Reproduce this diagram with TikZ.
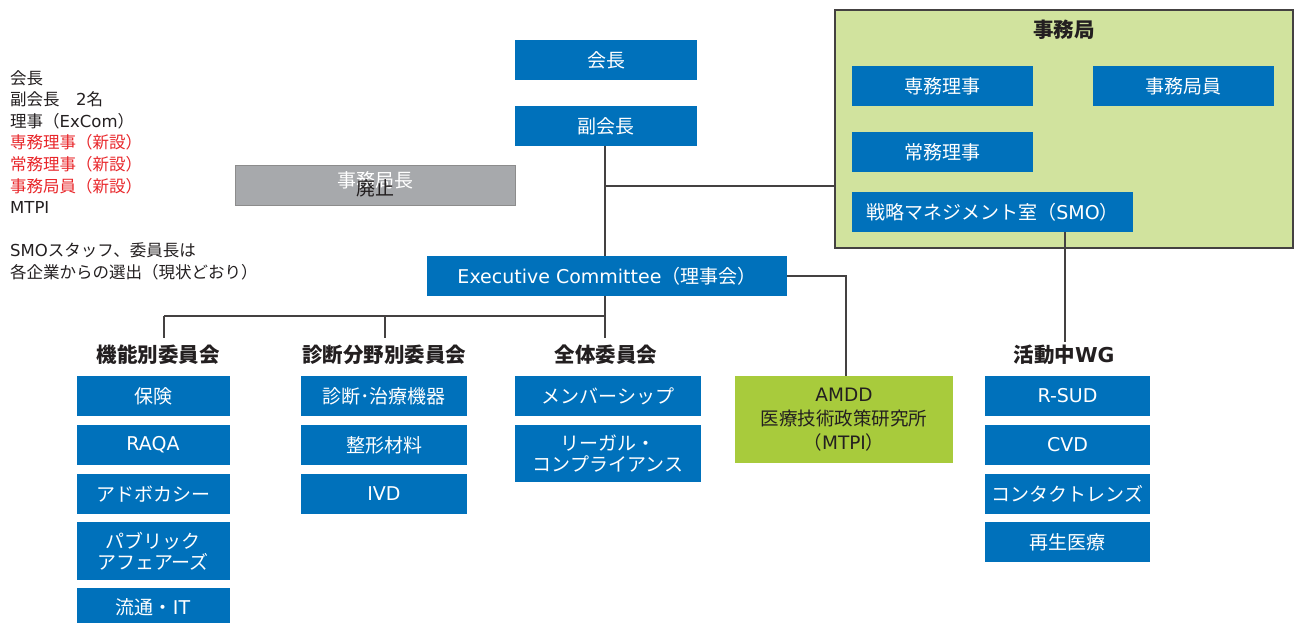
\documentclass[tikz,border=0pt]{standalone}
\usepackage{fontspec}
\setmainfont{Noto Sans CJK JP}
\newfontfamily\dvs{DejaVu Sans}
\newcommand\latn[1]{{\dvs #1}}
\definecolor{blu}{HTML}{0071BB}
\definecolor{ink}{HTML}{231F20}
\definecolor{lgreen}{HTML}{D1E39E}
\definecolor{dgreen}{HTML}{A8CB3C}
\definecolor{gbox}{HTML}{A7A9AC}
\definecolor{gline}{HTML}{8C8C8C}
\definecolor{redt}{HTML}{E8262A}
\begin{document}
\begin{tikzpicture}[x=1pt,y=-1pt,
  box/.style={fill=blu,text=white,inner sep=0pt,align=center,font=\fontsize{19}{21}\selectfont},
  ttl/.style={text=ink,inner sep=0pt,font=\fontsize{20.5}{23}\selectfont\bfseries},
  conn/.style={draw=ink!85,line width=1.4pt}]
\useasboundingbox (0,0) rectangle (1294,623);
% left notes
\node[anchor=north west,inner sep=0pt,align=left,text=ink,font=\fontsize{16.5}{21.6}\selectfont] (notes) at (10,70)
 {会長\\副会長　\latn{2}名\\理事（\latn{ExCom}）\\\textcolor{redt}{専務理事（新設）}\\\textcolor{redt}{常務理事（新設）}\\\textcolor{redt}{事務局員（新設）}\\\latn{MTPI}\\[21.6pt]\latn{SMO}スタッフ、委員長は\\各企業からの選出（現状どおり）};
% top
\node[box,minimum width=182,minimum height=40] (kaicho) at (606,60) {会長};
\node[box,minimum width=182,minimum height=40] (fuku) at (606,126) {副会長};
\node[fill=gbox,draw=gline,line width=1pt,minimum width=280,minimum height=40,inner sep=0pt] (haishi) at (375,186) {};
\node[text=white,inner sep=0pt,font=\fontsize{19}{21}\selectfont] (jkc) at (375,180) {事務局長};
\node[text=ink,inner sep=0pt,font=\fontsize{19}{21}\selectfont] (hs) at (375,188.5) {廃止};
% secretariat
\node[fill=lgreen,draw=ink!85,line width=1.2pt,minimum width=458,minimum height=238,inner sep=0pt] (jim) at (1064,129) {};
\node[ttl] (jimt) at (1064,30) {事務局};
\node[box,minimum width=181,minimum height=40] (senmu) at (942.5,86) {専務理事};
\node[box,minimum width=181,minimum height=40] (jin) at (1183.5,86) {事務局員};
\node[box,minimum width=181,minimum height=40] (jomu) at (942.5,152) {常務理事};
\node[box,minimum width=281,minimum height=40] (smo) at (992.5,212) {戦略マネジメント室（\latn{SMO}）};
% exec
\node[box,minimum width=360,minimum height=40] (exec) at (607,276) {\latn{Executive Committee}（理事会）};
% titles
\node[ttl] (kino) at (158,355) {機能別委員会};
\node[ttl] (shin) at (384,355) {診断分野別委員会};
\node[ttl] (zen) at (606,355) {全体委員会};
\node[ttl] (wg) at (1064,355) {活動中\latn{WG}};
% column 1
\node[box,minimum width=153,minimum height=40] (c1a) at (153,396) {保険};
\node[box,minimum width=153,minimum height=40] (c1b) at (153,445) {\latn{RAQA}};
\node[box,minimum width=153,minimum height=40] (c1c) at (153,494) {アドボカシー};
\node[box,minimum width=153,minimum height=58] (c1d) at (153,551) {パブリック\\アフェアーズ};
\node[box,minimum width=153,minimum height=44] (c1e) at (153,610) {};
\node[text=white,inner sep=0pt,font=\fontsize{19}{21}\selectfont] (c1et) at (153,607) {流通・\latn{IT}};
% column 2
\node[box,minimum width=166,minimum height=40] (c2a) at (384,396) {診断･治療機器};
\node[box,minimum width=166,minimum height=40] (c2b) at (384,445) {整形材料};
\node[box,minimum width=166,minimum height=40] (c2c) at (384,494) {\latn{IVD}};
% column 3
\node[box,minimum width=186,minimum height=40] (c3a) at (608,396) {メンバーシップ};
\node[box,minimum width=186,minimum height=57] (c3b) at (608,453.5) {リーガル・\\コンプライアンス};
% AMDD
\node[fill=dgreen,text=ink,inner sep=0pt,align=center,minimum width=218,minimum height=87,font=\fontsize{18.5}{24}\selectfont] (amdd) at (844,419.5) {\latn{AMDD}\\医療技術政策研究所\\（\latn{MTPI}）};
% WG column
\node[box,minimum width=165,minimum height=40] (w1) at (1067.5,396) {\latn{R-SUD}};
\node[box,minimum width=165,minimum height=40] (w2) at (1067.5,445) {\latn{CVD}};
\node[box,minimum width=165,minimum height=40] (w3) at (1067.5,494) {コンタクトレンズ};
\node[box,minimum width=165,minimum height=40] (w4) at (1067.5,542) {再生医療};
% connectors
\coordinate (j1) at (605,186);
\coordinate (bus) at (605,316);
\coordinate (z1) at (605,338);
\coordinate (k1) at (164,316);
\coordinate (k2) at (164,338);
\coordinate (s1) at (385,316);
\coordinate (s2) at (385,338);
\coordinate (a1) at (846,276);
\coordinate (wgtop) at (1065,342);
\draw[conn] (605,146) -- (605,256);
\draw[conn] (j1) -- (jim.west |- j1);
\draw[conn] (605,296) -- (z1);
\draw[conn] (k1) -- (bus);
\draw[conn] (k1) -- (k2);
\draw[conn] (s1) -- (s2);
\draw[conn] (exec.east) -- (a1) -- (a1 |- amdd.north);
\draw[conn] (smo.south -| wgtop) -- (wgtop);
\end{tikzpicture}
\end{document}
